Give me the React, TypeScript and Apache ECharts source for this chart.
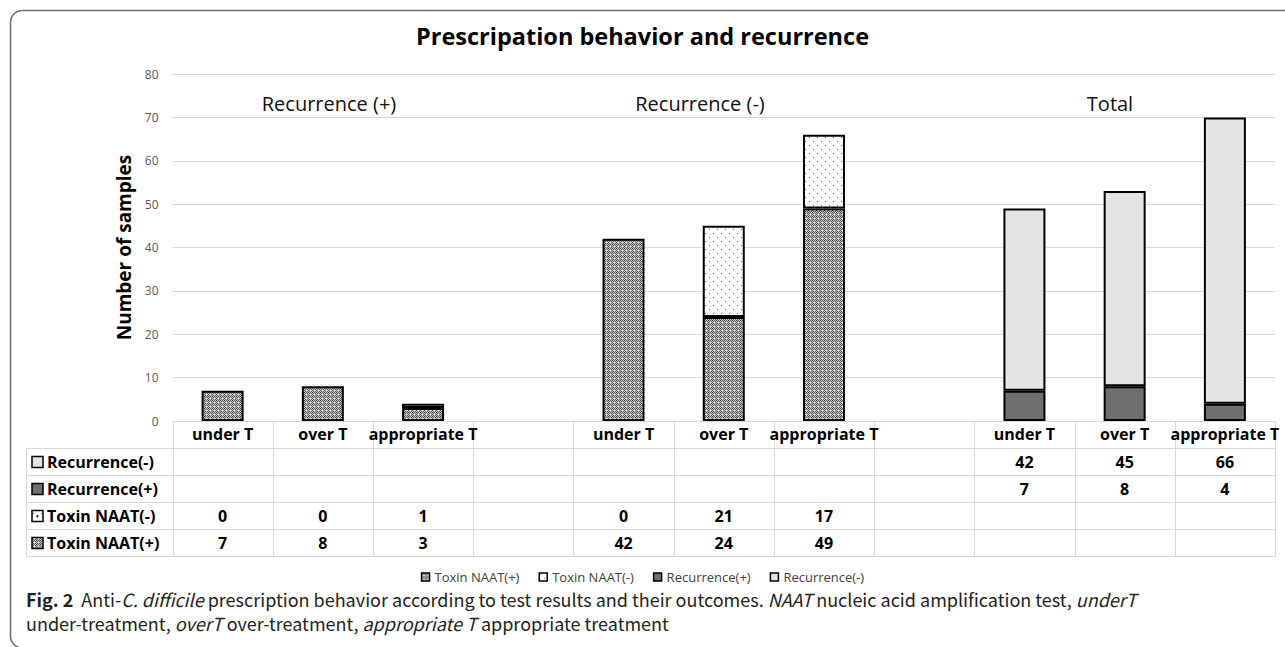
import React, { useEffect, useRef } from 'react';
import * as echarts from 'echarts';

// ---------- data ----------
const categories = [
  'under T', 'over T', 'appropriate T', '',
  'under T', 'over T', 'appropriate T', '',
  'under T', 'over T', 'appropriate T',
];
const groupLabels = ['Recurrence (+)', 'Recurrence (-)', 'Total'];
const toxinNaatPos: (number | null)[] = [7, 8, 3, null, 42, 24, 49, null, null, null, null];
const toxinNaatNeg: (number | null)[] = [0, 0, 1, null, 0, 21, 17, null, null, null, null];
const recurrencePos: (number | null)[] = [null, null, null, null, null, null, null, null, 7, 8, 4];
const recurrenceNeg: (number | null)[] = [null, null, null, null, null, null, null, null, 42, 45, 66];
const yMin = 0;
const yMax = 80;
const yInterval = 10;

const TITLE = 'Prescripation behavior and recurrence';
const Y_NAME = 'Number of samples';
const SERIES_NAMES = ['Toxin NAAT(+)', 'Toxin NAAT(-)', 'Recurrence(+)', 'Recurrence(-)'];

const FONT = '"Open Sans", "Noto Sans", sans-serif';
const CAP_FONT = '"Noto Sans CJK KR", "Noto Sans", sans-serif';

// ---------- patterns ----------
function makePattern(size: number, draw: (ctx: CanvasRenderingContext2D) => void): any {
  const c = document.createElement('canvas');
  c.width = size;
  c.height = size;
  const ctx = c.getContext('2d')!;
  draw(ctx);
  return { image: c, repeat: 'repeat', imageWidth: size, imageHeight: size };
}
const hatchPattern = () =>
  makePattern(4, (ctx) => {
    for (let y = 0; y < 4; y++)
      for (let x = 0; x < 4; x++) {
        let col = (x + y) % 2 === 0 ? '#5c5c5c' : '#c4c4c4';
        if (x === 2 && y === 2) col = '#f0f0f0';
        if (x === 0 && y === 0) col = '#3c3c3c';
        ctx.fillStyle = col;
        ctx.fillRect(x, y, 1, 1);
      }
  });
const dotPattern = () =>
  makePattern(8, (ctx) => {
    ctx.fillStyle = '#ffffff';
    ctx.fillRect(0, 0, 8, 8);
    ctx.fillStyle = '#6a6a6a';
    ctx.fillRect(1, 1, 1, 1);
    ctx.fillRect(5, 5, 1, 1);
  });
const REC_POS = '#6f6f6f';
const REC_NEG = '#e4e4e4';

const fillFor = (name: string): any => {
  if (name === 'Toxin NAAT(+)') return hatchPattern();
  if (name === 'Toxin NAAT(-)') return dotPattern();
  if (name === 'Recurrence(+)') return REC_POS;
  return REC_NEG;
};

const tableRows = [
  { name: 'Recurrence(-)', values: recurrenceNeg },
  { name: 'Recurrence(+)', values: recurrencePos },
  { name: 'Toxin NAAT(-)', values: toxinNaatNeg },
  { name: 'Toxin NAAT(+)', values: toxinNaatPos },
];

const barData = (arr: (number | null)[]) => arr.map((v) => (v === null || v === 0 ? '-' : v));

export default function App() {
  const ref = useRef<HTMLDivElement>(null);

  useEffect(() => {
    if (!ref.current) return;
    document.body.style.margin = '0';
    document.body.style.overflow = 'hidden';
    const chart = echarts.init(ref.current, null, { renderer: 'svg' });

    const seriesArrays = [toxinNaatPos, toxinNaatNeg, recurrencePos, recurrenceNeg];

    const option: any = {
      animation: false,
      backgroundColor: '#ffffff',
      title: {
        text: TITLE,
        left: 'center',
        top: 19,
        textStyle: { fontFamily: FONT, fontSize: 23.5, fontWeight: 'bold', color: '#000' },
      },
      legend: {
        data: SERIES_NAMES,
        left: 'center',
        top: 570,
        icon: 'rect',
        itemWidth: 8,
        itemHeight: 8,
        itemGap: 19,
        padding: 0,
        textStyle: { fontFamily: FONT, fontSize: 13, color: '#404040', lineHeight: 14 },
        itemStyle: { borderWidth: 1.5, borderColor: '#000' },
      },
      grid: { left: 172.5, right: 10, top: 74, bottom: 226, containLabel: false },
      xAxis: {
        type: 'category',
        data: categories,
        axisTick: { show: false },
        axisLine: { show: true, lineStyle: { color: '#d9d9d9', width: 1 } },
        axisLabel: {
          interval: 0,
          margin: 5,
          fontFamily: FONT,
          fontSize: 16,
          fontWeight: 'bold',
          color: '#000',
          lineHeight: 16,
        },
      },
      yAxis: {
        type: 'value',
        min: yMin,
        max: yMax,
        interval: yInterval,
        name: Y_NAME,
        nameLocation: 'middle',
        nameGap: 36,
        nameRotate: 90,
        nameTextStyle: { fontFamily: FONT, fontSize: 19, fontWeight: 'bold', color: '#000' },
        axisLine: { show: false },
        axisTick: { show: false },
        axisLabel: { margin: 14, fontFamily: FONT, fontSize: 12, color: '#595959' },
        splitLine: { lineStyle: { color: '#d9d9d9', width: 1 } },
      },
      series: SERIES_NAMES.map((name, i) => ({
        name,
        type: 'bar',
        stack: 'total',
        barWidth: 42,
        data: barData(seriesArrays[i]),
        itemStyle: { color: fillFor(name), borderColor: '#000', borderWidth: 2 },
        emphasis: { disabled: true },
      })),
    };
    chart.setOption(option);

    // ----- table + annotations via graphics, positioned from the axes -----
    const xs = categories.map((_, i) => chart.convertToPixel({ xAxisIndex: 0 }, i) as number);
    const colW = xs[1] - xs[0];
    const y0 = chart.convertToPixel({ yAxisIndex: 0 }, 0) as number;
    const rowH = 27;
    const tableLeft = 26;
    const tableRight = xs[xs.length - 1] + colW / 2;
    const lineStyle = { stroke: '#d9d9d9', lineWidth: 1 };
    const g: any[] = [];

    // frame: top + left edges with rounded corners
    const frameStyle = { fill: 'none', stroke: '#6b6b6b', lineWidth: 1.5 };
    const fx = 10.5;
    const fy = 10.5;
    const fr = 12;
    const fb = 648;
    g.push({ type: 'line', silent: true, shape: { x1: fx + fr, y1: fy, x2: 1290, y2: fy }, style: frameStyle, z: 100 });
    g.push({ type: 'line', silent: true, shape: { x1: fx, y1: fy + fr, x2: fx, y2: fb - fr }, style: frameStyle, z: 100 });
    g.push({
      type: 'arc',
      silent: true,
      shape: { cx: fx + fr, cy: fy + fr, r: fr, startAngle: Math.PI, endAngle: Math.PI * 1.5, clockwise: true },
      style: frameStyle,
      z: 100,
    });
    g.push({
      type: 'arc',
      silent: true,
      shape: { cx: fx + fr, cy: fb - fr, r: fr, startAngle: Math.PI * 0.5, endAngle: Math.PI, clockwise: true },
      style: frameStyle,
      z: 100,
    });

    // table horizontal lines
    for (let k = 1; k <= 5; k++) {
      const y = Math.round(y0 + k * rowH) + 0.5;
      g.push({ type: 'line', silent: true, shape: { x1: tableLeft, y1: y, x2: tableRight, y2: y }, style: lineStyle });
    }
    // vertical lines
    for (let i = 0; i <= categories.length; i++) {
      const x = Math.round(xs[0] - colW / 2 + i * colW) + 0.5;
      g.push({ type: 'line', silent: true, shape: { x1: x, y1: y0, x2: x, y2: y0 + 5 * rowH + 0.5 }, style: lineStyle });
    }
    g.push({
      type: 'line',
      silent: true,
      shape: { x1: tableLeft + 0.5, y1: y0 + rowH, x2: tableLeft + 0.5, y2: y0 + 5 * rowH + 0.5 },
      style: lineStyle,
    });

    // row labels + values
    tableRows.forEach((row, r) => {
      const cy = y0 + rowH * (r + 1) + rowH / 2 + 0.5;
      g.push({
        type: 'rect',
        silent: true,
        shape: { x: 32, y: cy - 5.5, width: 11, height: 11 },
        style: { fill: fillFor(row.name), stroke: '#000', lineWidth: 1.5 },
      });
      if (row.name === 'Toxin NAAT(-)') {
        g.push({ type: 'rect', silent: true, shape: { x: 36.5, y: cy - 1, width: 2, height: 2 }, style: { fill: '#333' } });
      }
      g.push({
        type: 'text',
        silent: true,
        x: 47,
        y: cy,
        style: {
          text: row.name,
          fontFamily: FONT,
          fontSize: 16,
          fontWeight: 'bold',
          fill: '#000',
          verticalAlign: 'middle',
          align: 'left',
        },
      });
      row.values.forEach((v, i) => {
        if (v === null) return;
        g.push({
          type: 'text',
          silent: true,
          x: xs[i],
          y: cy,
          style: {
            text: String(v),
            fontFamily: FONT,
            fontSize: 16,
            fontWeight: 'bold',
            fill: '#000',
            align: 'center',
            verticalAlign: 'middle',
          },
        });
      });
    });

    // group labels
    const groupX = [329, 700, 1110];
    const groupY = chart.convertToPixel({ yAxisIndex: 0 }, 73.3) as number;
    groupLabels.forEach((t, i) => {
      g.push({
        type: 'text',
        silent: true,
        x: groupX[i],
        y: groupY,
        style: { text: t, fontFamily: FONT, fontSize: 20, fill: '#111', align: 'center', verticalAlign: 'middle' },
      });
    });

    // caption
    const capRich = {
      b: { fontFamily: CAP_FONT, fontSize: 18, fontWeight: 'bold', fill: '#231f20', lineHeight: 20 },
      i: { fontFamily: CAP_FONT, fontSize: 18, fontStyle: 'italic', fill: '#231f20', lineHeight: 20 },
    };
    g.push({
      type: 'text',
      silent: true,
      x: 26,
      y: 599,
      style: {
        text: '{b|Fig. 2}  Anti-{i|C. difficile} prescription behavior according to test results and their outcomes. {i|NAAT} nucleic acid amplification test, {i|underT}',
        rich: capRich,
        fontFamily: CAP_FONT,
        fontSize: 18,
        lineHeight: 20,
        fill: '#231f20',
        verticalAlign: 'middle',
      },
    });
    g.push({
      type: 'text',
      silent: true,
      x: 26,
      y: 623,
      style: {
        text: 'under-treatment, {i|overT} over-treatment, {i|appropriate T} appropriate treatment',
        rich: capRich,
        fontFamily: CAP_FONT,
        fontSize: 18,
        lineHeight: 20,
        fill: '#231f20',
        verticalAlign: 'middle',
      },
    });

    chart.setOption({ graphic: { elements: g } });

    return () => {
      chart.dispose();
    };
  }, []);

  return <div ref={ref} style={{ position: 'absolute', left: 0, top: 0, width: 1285, height: 647 }} />;
}
